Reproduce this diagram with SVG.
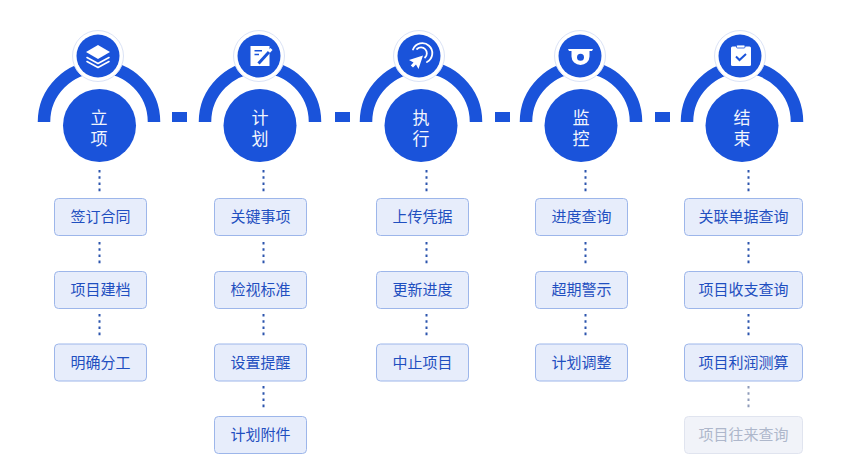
<svg xmlns="http://www.w3.org/2000/svg" width="849" height="476" viewBox="0 0 849 476">
<defs>
<style>
text{font-family:"Noto Sans CJK SC","Noto Sans",sans-serif;text-anchor:middle}
.arc{fill:none;stroke:#1a53da;stroke-width:12.5}
.big{fill:#1a53da}
.halo{fill:#fff;stroke:#dbe3f6;stroke-width:1}
.t{fill:#f2f5fd;font-size:17px}
.box{fill:#e7edfb;stroke:#9db6ea;stroke-width:1}
.bt{fill:#1f4fc0;font-size:15px}
.off{fill:#f1f3f9;stroke:#e0e4ef;stroke-width:1}
.ot{fill:#aeb7cb;font-size:15px}
.dot{stroke:#2c55ad;stroke-width:2;stroke-dasharray:2.6 3.6;fill:none}
.dot2{stroke:#8f9cba;stroke-width:2;stroke-dasharray:2.6 3.6;fill:none}
.sq{fill:#1a53da}
.w{fill:#fff}
.ws{fill:none;stroke:#fff;stroke-linecap:round;stroke-linejoin:round}
.bl{fill:none;stroke:#1a53da}
</style>
<g id="arcshape"><path class="arc" d="M-55 122A55 55 0 0 1 55 122"/></g>
</defs>
<rect width="849" height="476" fill="#fff"/>
<g id="connectors">
<rect class="sq" x="172" y="112" width="15" height="10"/>
<rect class="sq" x="335" y="112" width="15" height="10"/>
<rect class="sq" x="495" y="112" width="15" height="10"/>
<rect class="sq" x="655" y="112" width="15" height="10"/>
<path class="dot" d="M99.500 170V194M99.500 242V266M99.500 314V338"/>
<path class="dot" d="M263.500 170V194M263.500 242V266M263.500 314V338M263.500 386V410"/>
<path class="dot" d="M426.500 170V194M426.500 242V266M426.500 314V338"/>
<path class="dot" d="M585.500 170V194M585.500 242V266M585.500 314V338"/>
<path class="dot" d="M748.500 170V194M748.500 242V266M748.500 314V338"/>
<path class="dot2" d="M748.500 386V410"/>
</g>
<g id="stage-1">
<use href="#arcshape" x="99"/>
<circle class="big" cx="99.500" cy="125.500" r="36.500"/>
<circle class="halo" cx="98" cy="56" r="25.500"/><circle class="big" cx="98" cy="56" r="21.500"/>
<path class="w" d="M98 45L110 52L98 59L86 52Z"/>
<path class="ws" stroke-width="1.600" d="M87 57.500L98 63.500L109 57.500M87 61.500L98 67.500L109 61.500"/>
<text class="t" x="99"><tspan x="99" y="123.500">立</tspan><tspan x="99" y="144.500">项</tspan></text>
</g>
<g id="stage-2">
<use href="#arcshape" x="260"/>
<circle class="big" cx="260" cy="125.500" r="36.500"/>
<circle class="halo" cx="259" cy="56" r="25.500"/><circle class="big" cx="259" cy="56" r="21.500"/>
<path class="w" d="M250.500 46H269.500V66H250.500Z"/>
<path class="bl" stroke-width="1.500" d="M254.500 50.800H262M254.500 54.500H259"/>
<path class="bl" stroke-width="3" d="M258.500 63.500L269 52"/>
<path class="w" d="M268 50.500L270.500 48L272.500 50L270 52.800Z"/>
<text class="t" x="260"><tspan x="260" y="123.500">计</tspan><tspan x="260" y="144.500">划</tspan></text>
</g>
<g id="stage-3">
<use href="#arcshape" x="421"/>
<circle class="big" cx="421" cy="125.500" r="36.500"/>
<circle class="halo" cx="419" cy="56" r="25.500"/><circle class="big" cx="419" cy="56" r="21.500"/>
<path class="ws" stroke-width="1.800" d="M417 49A5.500 5.500 0 1 1 425 57.500M413 49.500A10 10 0 1 1 427 62"/>
<path class="w" d="M423 55.500L409 60L413.500 62.500L410.800 65.500L413 67.500L416 64.500L418.500 69Z"/>
<text class="t" x="421"><tspan x="421" y="123.500">执</tspan><tspan x="421" y="144.500">行</tspan></text>
</g>
<g id="stage-4">
<use href="#arcshape" x="581"/>
<circle class="big" cx="581" cy="125.500" r="36.500"/>
<circle class="halo" cx="580" cy="56" r="25.500"/><circle class="big" cx="580" cy="56" r="21.500"/>
<path class="w" d="M568 49H593L592 51H589.500V56.500A9 8.500 0 0 1 571.500 56.500V51H569Z"/>
<circle class="big" cx="580.500" cy="57.300" r="3.500"/>
<text class="t" x="581"><tspan x="581" y="123.500">监</tspan><tspan x="581" y="144.500">控</tspan></text>
</g>
<g id="stage-5">
<use href="#arcshape" x="742"/>
<circle class="big" cx="742" cy="125.500" r="36.500"/>
<circle class="halo" cx="740" cy="56" r="25.500"/><circle class="big" cx="740" cy="56" r="21.500"/>
<rect class="w" x="731" y="46.500" width="20" height="19.500" rx="1.500"/>
<rect class="w" x="736.500" y="45" width="8.500" height="3" rx="1" stroke="#1a53da" stroke-width="0.800"/>
<path class="bl" stroke-width="2" d="M736 56.500L739.500 60L746 54"/>
<text class="t" x="742"><tspan x="742" y="123.500">结</tspan><tspan x="742" y="144.500">束</tspan></text>
</g>
<g id="n-1-1"><rect class="box" x="54.500" y="198.500" width="92" height="37" rx="4"/><text class="bt" x="100.500" y="222">签订合同</text></g>
<g id="n-1-2"><rect class="box" x="54.500" y="271.500" width="92" height="37" rx="4"/><text class="bt" x="100.500" y="295">项目建档</text></g>
<g id="n-1-3"><rect class="box" x="54.500" y="344" width="92" height="37" rx="4"/><text class="bt" x="100.500" y="367.500">明确分工</text></g>
<g id="n-2-1"><rect class="box" x="214.500" y="198.500" width="92" height="37" rx="4"/><text class="bt" x="260.500" y="222">关键事项</text></g>
<g id="n-2-2"><rect class="box" x="214.500" y="271.500" width="92" height="37" rx="4"/><text class="bt" x="260.500" y="295">检视标准</text></g>
<g id="n-2-3"><rect class="box" x="214.500" y="344" width="92" height="37" rx="4"/><text class="bt" x="260.500" y="367.500">设置提醒</text></g>
<g id="n-2-4"><rect class="box" x="214.500" y="416.500" width="92" height="37" rx="4"/><text class="bt" x="260.500" y="440">计划附件</text></g>
<g id="n-3-1"><rect class="box" x="376.500" y="198.500" width="92" height="37" rx="4"/><text class="bt" x="422.500" y="222">上传凭据</text></g>
<g id="n-3-2"><rect class="box" x="376.500" y="271.500" width="92" height="37" rx="4"/><text class="bt" x="422.500" y="295">更新进度</text></g>
<g id="n-3-3"><rect class="box" x="376.500" y="344" width="92" height="37" rx="4"/><text class="bt" x="422.500" y="367.500">中止项目</text></g>
<g id="n-4-1"><rect class="box" x="535.500" y="198.500" width="92" height="37" rx="4"/><text class="bt" x="581.500" y="222">进度查询</text></g>
<g id="n-4-2"><rect class="box" x="535.500" y="271.500" width="92" height="37" rx="4"/><text class="bt" x="581.500" y="295">超期警示</text></g>
<g id="n-4-3"><rect class="box" x="535.500" y="344" width="92" height="37" rx="4"/><text class="bt" x="581.500" y="367.500">计划调整</text></g>
<g id="n-5-1"><rect class="box" x="684.500" y="198.500" width="118" height="37" rx="4"/><text class="bt" x="743.500" y="222">关联单据查询</text></g>
<g id="n-5-2"><rect class="box" x="684.500" y="271.500" width="118" height="37" rx="4"/><text class="bt" x="743.500" y="295">项目收支查询</text></g>
<g id="n-5-3"><rect class="box" x="684.500" y="344" width="118" height="37" rx="4"/><text class="bt" x="743.500" y="367.500">项目利润测算</text></g>
<g id="n-5-4"><rect class="off" x="684.500" y="416.500" width="118" height="37" rx="4"/><text class="ot" x="743.500" y="440">项目往来查询</text></g>
</svg>
